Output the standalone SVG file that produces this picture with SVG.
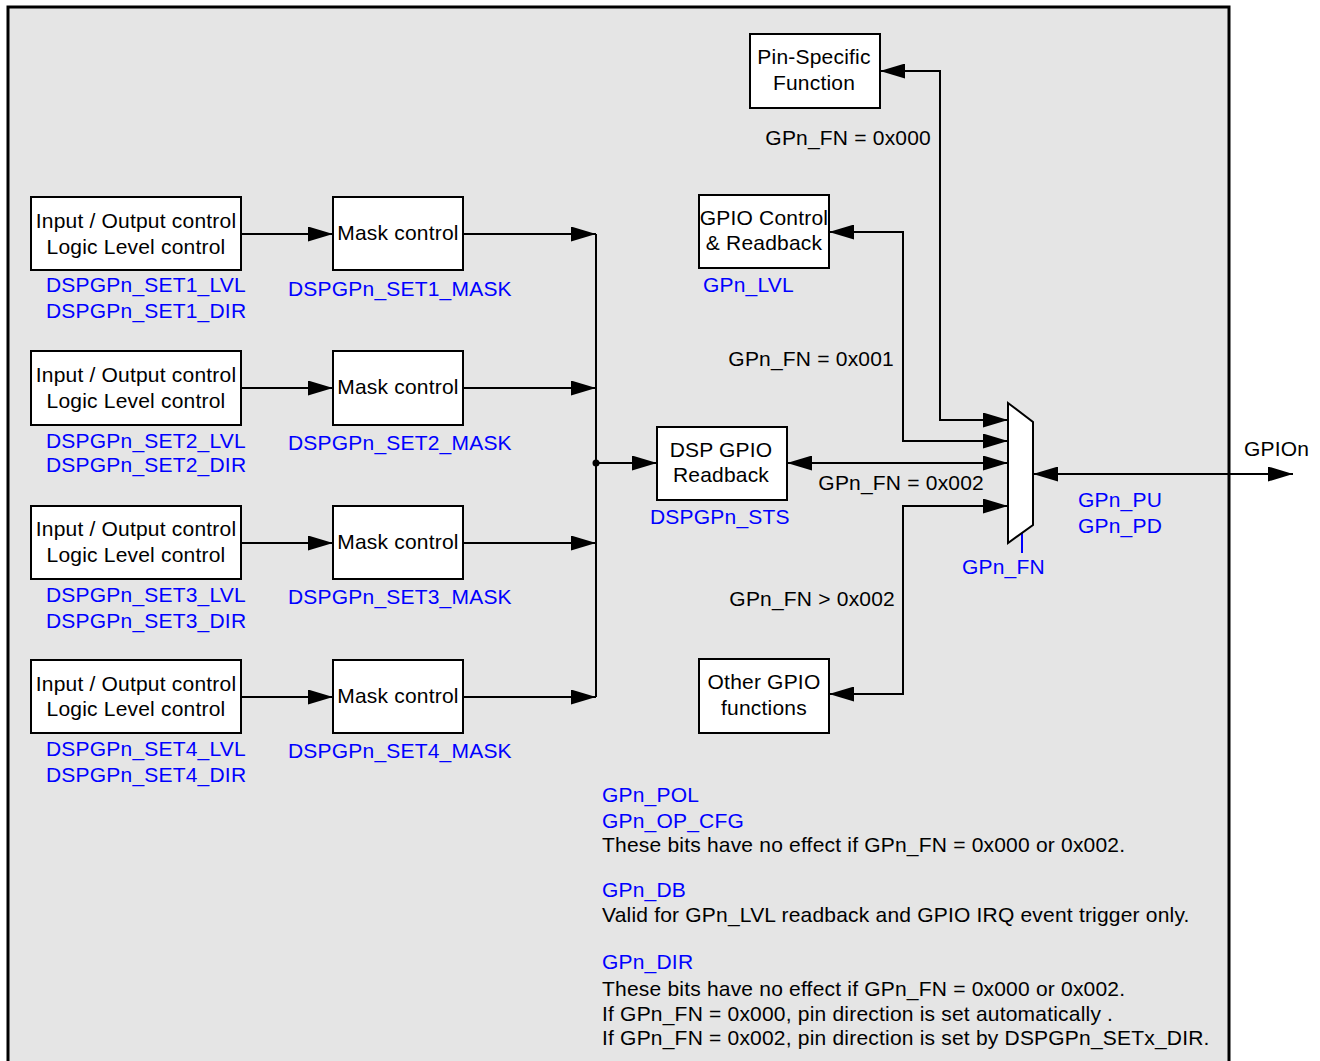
<svg xmlns="http://www.w3.org/2000/svg" width="1320" height="1061" viewBox="0 0 1320 1061">
<defs>
<style>
text{font-family:"Liberation Sans",Arial,sans-serif;font-size:21px;letter-spacing:0.2px;fill:#000}
.b{fill:#0000ff}
.m{text-anchor:middle}
.box{fill:#fff;stroke:#000;stroke-width:2}
.ln{fill:none;stroke:#000;stroke-width:2}
</style>
<marker id="ah" viewBox="0 0 25 15" refX="25" refY="7.5" markerWidth="25" markerHeight="15" markerUnits="userSpaceOnUse" orient="auto-start-reverse"><path d="M0,0 L25,7.5 L0,15 z" fill="#000"/></marker>
</defs>
<rect x="8" y="7" width="1221" height="1080" fill="#e5e5e5" stroke="#000" stroke-width="3"/>

<g id="connectors">
<path class="ln" d="M241,234 H333" marker-end="url(#ah)"/>
<path class="ln" d="M463,234 H596" marker-end="url(#ah)"/>
<path class="ln" d="M241,388 H333" marker-end="url(#ah)"/>
<path class="ln" d="M463,388 H596" marker-end="url(#ah)"/>
<path class="ln" d="M241,543 H333" marker-end="url(#ah)"/>
<path class="ln" d="M463,543 H596" marker-end="url(#ah)"/>
<path class="ln" d="M241,697 H333" marker-end="url(#ah)"/>
<path class="ln" d="M463,697 H596" marker-end="url(#ah)"/>
<path class="ln" d="M596,234 V697"/>
<circle cx="596" cy="463" r="3.5" fill="#000"/>
<path class="ln" d="M596,463 H657" marker-end="url(#ah)"/>
<path class="ln" d="M880,71 H940 V420 H1008" marker-start="url(#ah)" marker-end="url(#ah)"/>
<path class="ln" d="M829,232 H903 V441 H1008" marker-start="url(#ah)" marker-end="url(#ah)"/>
<path class="ln" d="M787,463 H1008" marker-start="url(#ah)" marker-end="url(#ah)"/>
<path class="ln" d="M829,694 H903 V506 H1008" marker-start="url(#ah)" marker-end="url(#ah)"/>
<path class="ln" d="M1033,474 H1293" marker-start="url(#ah)" marker-end="url(#ah)"/>
<path d="M1022,533 V553" stroke="#0000ff" stroke-width="2"/>
<text x="931" y="145" text-anchor="end">GPn_FN = 0x000</text>
<text x="894" y="366" text-anchor="end">GPn_FN = 0x001</text>
<text x="984" y="490" text-anchor="end">GPn_FN = 0x002</text>
<text x="895" y="606" text-anchor="end">GPn_FN &gt; 0x002</text>
<text x="1244" y="456">GPIOn</text>
</g>

<g id="io1"><rect class="box" x="31" y="197" width="210" height="73"/><text class="m" x="136" y="228">Input / Output control</text><text class="m" x="136" y="254">Logic Level control</text><text class="b" x="46" y="292">DSPGPn_SET1_LVL</text><text class="b" x="46" y="318">DSPGPn_SET1_DIR</text></g>
<g id="mask1"><rect class="box" x="333" y="197" width="130" height="73"/><text class="m" x="398" y="240">Mask control</text><text class="b" x="288" y="296">DSPGPn_SET1_MASK</text></g>

<g id="io2"><rect class="box" x="31" y="351" width="210" height="74"/><text class="m" x="136" y="382">Input / Output control</text><text class="m" x="136" y="408">Logic Level control</text><text class="b" x="46" y="448">DSPGPn_SET2_LVL</text><text class="b" x="46" y="472">DSPGPn_SET2_DIR</text></g>
<g id="mask2"><rect class="box" x="333" y="351" width="130" height="74"/><text class="m" x="398" y="394">Mask control</text><text class="b" x="288" y="450">DSPGPn_SET2_MASK</text></g>

<g id="io3"><rect class="box" x="31" y="506" width="210" height="73"/><text class="m" x="136" y="536">Input / Output control</text><text class="m" x="136" y="562">Logic Level control</text><text class="b" x="46" y="602">DSPGPn_SET3_LVL</text><text class="b" x="46" y="628">DSPGPn_SET3_DIR</text></g>
<g id="mask3"><rect class="box" x="333" y="506" width="130" height="73"/><text class="m" x="398" y="549">Mask control</text><text class="b" x="288" y="604">DSPGPn_SET3_MASK</text></g>

<g id="io4"><rect class="box" x="31" y="660" width="210" height="73"/><text class="m" x="136" y="691">Input / Output control</text><text class="m" x="136" y="716">Logic Level control</text><text class="b" x="46" y="756">DSPGPn_SET4_LVL</text><text class="b" x="46" y="782">DSPGPn_SET4_DIR</text></g>
<g id="mask4"><rect class="box" x="333" y="660" width="130" height="73"/><text class="m" x="398" y="703">Mask control</text><text class="b" x="288" y="758">DSPGPn_SET4_MASK</text></g>

<g id="pinfn"><rect class="box" x="750" y="34" width="130" height="74"/><text class="m" x="814" y="64">Pin-Specific</text><text class="m" x="814" y="90">Function</text></g>
<g id="gpioctl"><rect class="box" x="699" y="195" width="130" height="73"/><text class="m" x="764" y="225">GPIO Control</text><text class="m" x="764" y="250">&amp; Readback</text><text class="b" x="703" y="292">GPn_LVL</text></g>
<g id="dsprb"><rect class="box" x="657" y="427" width="130" height="73"/><text class="m" x="721" y="457">DSP GPIO</text><text class="m" x="721" y="482">Readback</text><text class="b" x="650" y="524">DSPGPn_STS</text></g>
<g id="other"><rect class="box" x="699" y="659" width="130" height="74"/><text class="m" x="764" y="689">Other GPIO</text><text class="m" x="764" y="715">functions</text></g>
<g id="mux"><polygon points="1008,403 1033,422 1033,525 1008,543" fill="#fff" stroke="#000" stroke-width="2"/><text class="b" x="962" y="574">GPn_FN</text><text class="b" x="1078" y="507">GPn_PU</text><text class="b" x="1078" y="533">GPn_PD</text></g>

<g id="notes">
<text class="b" x="602" y="802">GPn_POL</text>
<text class="b" x="602" y="828">GPn_OP_CFG</text>
<text x="602" y="852">These bits have no effect if GPn_FN = 0x000 or 0x002.</text>
<text class="b" x="602" y="897">GPn_DB</text>
<text x="602" y="922">Valid for GPn_LVL readback and GPIO IRQ event trigger only.</text>
<text class="b" x="602" y="969">GPn_DIR</text>
<text x="602" y="996">These bits have no effect if GPn_FN = 0x000 or 0x002.</text>
<text x="602" y="1021">If GPn_FN = 0x000, pin direction is set automatically .</text>
<text x="602" y="1045">If GPn_FN = 0x002, pin direction is set by DSPGPn_SETx_DIR.</text>
</g>
</svg>
